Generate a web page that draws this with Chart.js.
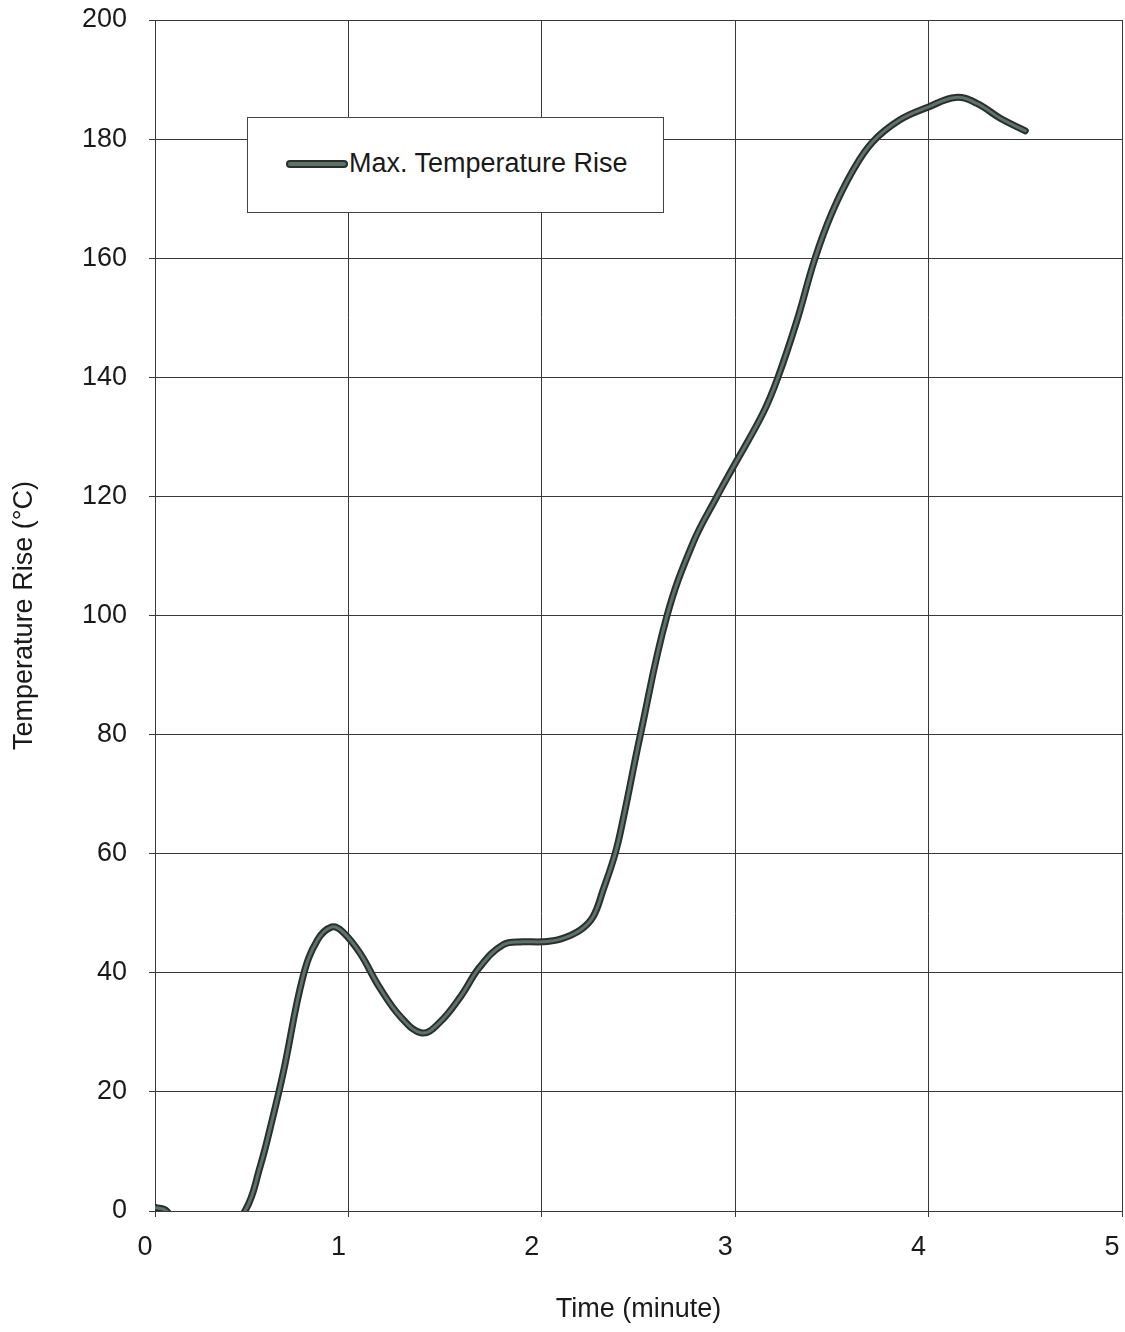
<!DOCTYPE html>
<html>
<head>
<meta charset="utf-8">
<script src="https://cdn.jsdelivr.net/npm/chart.js@4.4.1/dist/chart.umd.min.js"></script>
<style>
  html, body { margin: 0; padding: 0; background: #fff; }
  #wrap { position: relative; width: 1125px; height: 1332px; }
  #legend {
    position: absolute; left: 247px; top: 117px; width: 417px; height: 96px;
    border: 1px solid #444; background: #fff; box-sizing: border-box;
    font-family: "Liberation Sans", Arial, sans-serif; font-size: 27px; color: #1a1a1a;
  }
  #legend .swatch {
    position: absolute; left: 38px; top: 42px; width: 58px; height: 4px;
    background: #5d726a; border: 2px solid #2b302d; border-radius: 4px;
  }
  #legend .label { position: absolute; left: 101px; top: 30px; }
</style>
</head>
<body>
<div id="wrap">
  <canvas id="chart" width="1125" height="1332"></canvas>
  <div id="legend"><span class="swatch"></span><span class="label">Max. Temperature Rise</span></div>
</div>
<script>
const timeMin = [0, 0.06, 0.15, 0.3, 0.465, 0.543, 0.6, 0.665, 0.765, 0.84, 0.915, 0.97, 1.06, 1.16, 1.27,
  1.38, 1.47, 1.58, 1.68, 1.8, 1.9, 2.0, 2.1, 2.2, 2.265, 2.317, 2.38, 2.42, 2.51, 2.646, 2.782, 2.906,
  2.989, 3.144, 3.22, 3.32, 3.41, 3.5, 3.61, 3.71, 3.85, 4.0, 4.14, 4.25, 4.37, 4.5];
const tempRise = [0.6, 0, -4, -6, 0, 7.4, 14.5, 23.5, 39.3, 45.5, 47.7, 46.9, 43.3, 37.6, 32.6,
  29.9, 31.6, 36, 41, 44.7, 45.2, 45.2, 45.7, 47.2, 49.4, 53.9, 60.1, 65.7, 80, 99.8, 112.2, 120,
  124.9, 134, 139.9, 149.6, 159.7, 167.6, 174.8, 179.5, 183.2, 185.4, 187.0, 186, 183.5, 181.4];
const seriesName = "Max. Temperature Rise";

const points = timeMin.map((t, i) => ({ x: t, y: tempRise[i] }));
const font = { family: "'Liberation Sans', Arial, sans-serif", size: 27 };
const gridCol = "#3a3a3a";

// no extra room for the first/last tick labels, the plot box goes right to the edges
const noPad = (s) => { s.paddingLeft = 0; s.paddingRight = 0; s.paddingTop = 0; s.paddingBottom = 0; };

new Chart(document.getElementById("chart"), {
  type: "line",
  data: {
    datasets: [
      {
        label: seriesName,
        data: points,
        borderColor: "#5d726a",
        borderWidth: 3,
        pointRadius: 0,
        tension: 0.4,
        borderCapStyle: "round",
        clip: 0,
        order: 0,
      },
      {
        label: seriesName + " outline",
        data: points,
        borderColor: "#2b302d",
        borderWidth: 7,
        pointRadius: 0,
        tension: 0.4,
        borderCapStyle: "round",
        clip: 0,
        order: 1,
      },
    ],
  },
  options: {
    responsive: false,
    animation: false,
    layout: { padding: { top: 20, right: 3, left: 0, bottom: 6 } },
    plugins: { legend: { display: false }, tooltip: { enabled: false } },
    scales: {
      x: {
        type: "linear",
        min: 0,
        max: 5,
        ticks: { stepSize: 1, color: "#1a1a1a", font: font, padding: 14, labelOffset: -10, maxRotation: 0 },
        grid: { color: gridCol, lineWidth: 1, tickLength: 6 },
        border: { color: gridCol, width: 1 },
        title: { display: true, text: "Time (minute)", color: "#1a1a1a", font: font, padding: { top: 22, bottom: 0 } },
        afterFit: (s) => { s.height = 115; noPad(s); },
      },
      y: {
        min: 0,
        max: 200,
        ticks: { stepSize: 20, color: "#1a1a1a", font: font, padding: 22 },
        grid: { color: gridCol, lineWidth: 1, tickLength: 6 },
        border: { color: gridCol, width: 1 },
        title: { display: true, text: "Temperature Rise (°C)", color: "#1a1a1a", font: font, padding: { top: 8, bottom: 0 } },
        afterFit: (s) => { s.width = 155; noPad(s); },
      },
    },
  },
});
</script>
</body>
</html>
